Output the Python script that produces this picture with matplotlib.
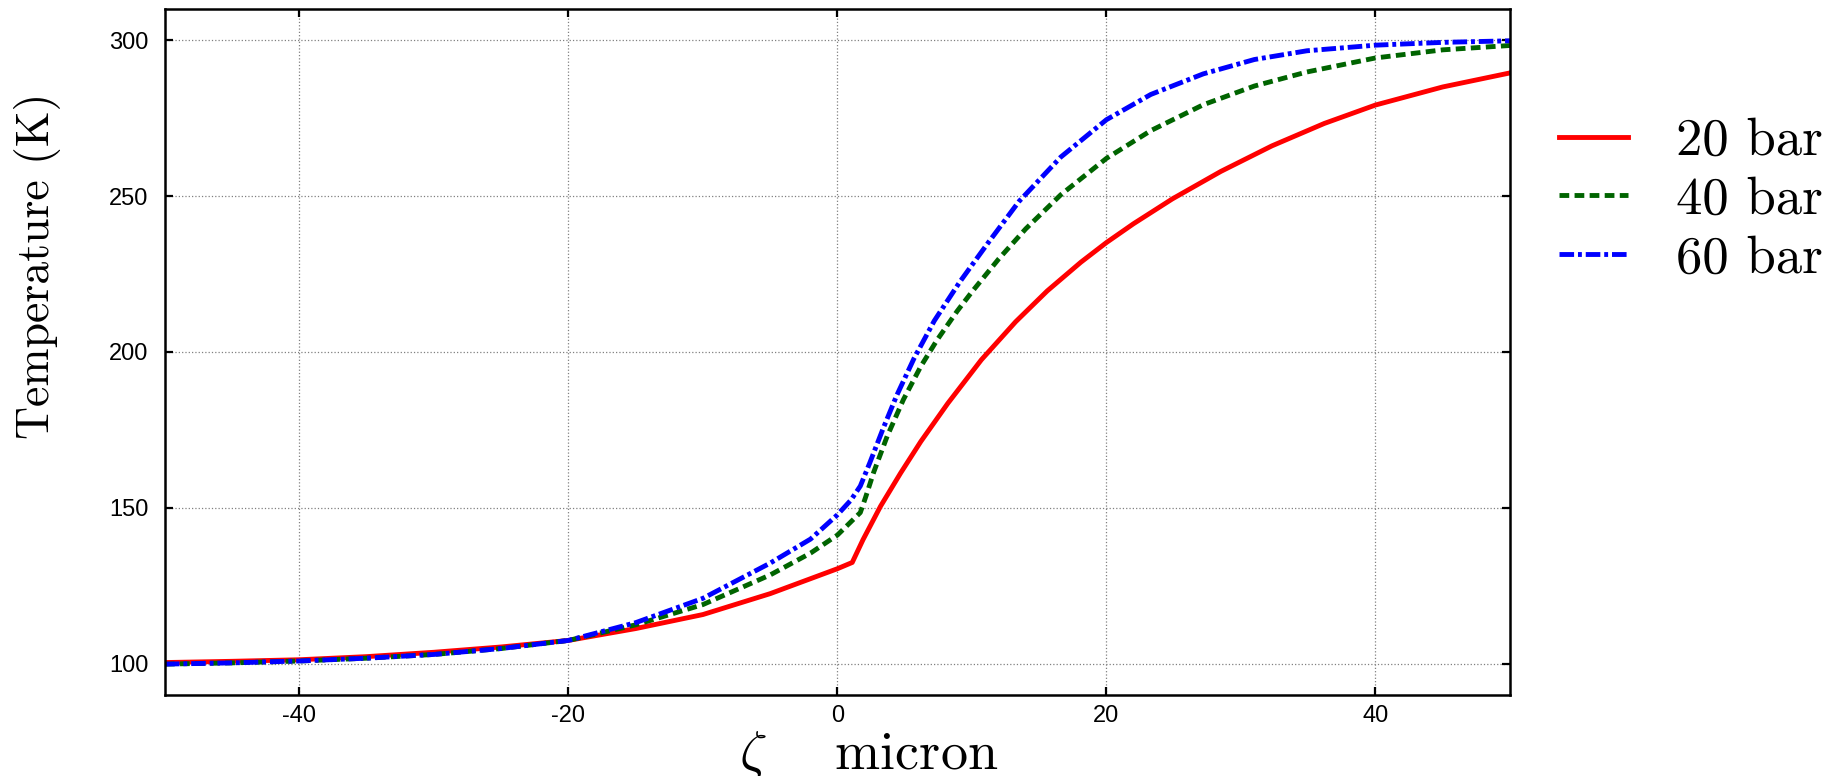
import matplotlib
matplotlib.use("Agg")
import matplotlib.pyplot as plt

plt.rcParams["mathtext.fontset"] = "cm"
plt.rcParams["axes.unicode_minus"] = False
plt.rcParams["font.family"] = ["Liberation Sans", "DejaVu Sans"]

# 20 bar
x_20 = [-50, -45, -40, -35, -30, -25, -20, -15, -10, -5, 0, 1.1, 1.9, 3.2, 4.7, 6.2,
        8.2, 10.7, 13.25, 15.6, 18.1, 20, 22, 24.9, 28.5, 32.3, 36.2, 40, 45, 50]
t_20 = [100.4, 100.8, 101.3, 102.3, 103.7, 105.4, 107.5, 111.3, 115.8, 122.5, 130.5,
        132.5, 139.8, 150.5, 161.2, 171.3, 183.5, 197.5, 209.7, 219.6, 228.8, 235.1,
        241.1, 249.1, 257.9, 266.1, 273.3, 279.2, 285.0, 289.5]

# 40 bar
x_40 = [-50, -45, -40, -35, -30, -25, -20, -15, -10, -5, -2, 0, 1.7, 2.1, 2.7, 3.7,
        4.9, 6.2, 7.4, 8.9, 10, 12, 14, 16.6, 20, 23.3, 27.2, 31, 34.9, 40, 45, 50]
t_40 = [99.9, 100.3, 100.9, 101.8, 103, 104.9, 107.5, 112.5, 119, 128.5, 135.5, 141.3,
        148.5, 153.5, 161.5, 173, 184.7, 195.4, 203.8, 213.1, 219.3, 229.9, 239.5,
        250.4, 262.1, 271, 279.3, 285.3, 289.8, 294.3, 296.9, 298.3]

# 60 bar
x_60 = [-50, -45, -40, -35, -30, -25, -20, -15, -10, -5, -2, 0, 1, 1.7, 2.4, 3.4,
        4.4, 5.7, 7.2, 9.1, 11.2, 13.5, 16.6, 20, 23.3, 27.2, 31, 34.9, 40, 45, 50]
t_60 = [99.9, 100.3, 100.9, 101.8, 103, 104.9, 107.5, 113.2, 121, 132.3, 140, 147.8,
        152.5, 157, 164.4, 175.5, 186, 198, 210, 222.5, 235, 248.3, 262.5, 274.5,
        282.6, 289.2, 293.8, 296.6, 298.4, 299.3, 299.8]

labels = ["20 bar", "40 bar", "60 bar"]
x_ticks = [-40, -20, 0, 20, 40]
y_ticks = [100, 150, 200, 250, 300]

fig = plt.figure(figsize=(18.45, 7.76), dpi=100)
ax = fig.add_axes([0.0894, 0.1044, 0.729, 0.884])

ax.plot(x_20, t_20, color="#ff0000", linewidth=3.5, label=labels[0])
ax.plot(x_40, t_40, color="#006400", linewidth=3.5, linestyle=(0, (2.0, 1.1)),
        label=labels[1])
ax.plot(x_60, t_60, color="#0000ff", linewidth=3.5,
        linestyle=(0, (3.0, 0.8, 0.8, 0.8)), label=labels[2])

ax.set_xlim(-50, 50)
ax.set_ylim(90, 310)
ax.set_xticks(x_ticks)
ax.set_yticks(y_ticks)
ax.tick_params(direction="in", length=6, width=1.6, top=True, right=True,
               labelsize=17)
ax.tick_params(axis="x", pad=7.5)
ax.tick_params(axis="y", pad=12)
ax.grid(True, linestyle=":", color="#808080", linewidth=0.9)
for s in ax.spines.values():
    s.set_linewidth(1.8)

ax.set_ylabel("Temperature (K)", fontfamily="cmr10", fontsize=33)
ax.yaxis.set_label_coords(-0.077, 0.625)
ax.set_xlabel(r"$\zeta$    micron", fontfamily="cmr10", fontsize=39)
ax.xaxis.set_label_coords(0.523, -0.05)

fig.legend(loc="center left", bbox_to_anchor=(0.845, 0.742), frameon=False,
           prop={"family": "cmr10", "size": 38}, handlelength=1.3,
           handletextpad=0.91, labelspacing=0.22, borderpad=0, borderaxespad=0)

fig.savefig("out.png", dpi=100)
plt.close(fig)
